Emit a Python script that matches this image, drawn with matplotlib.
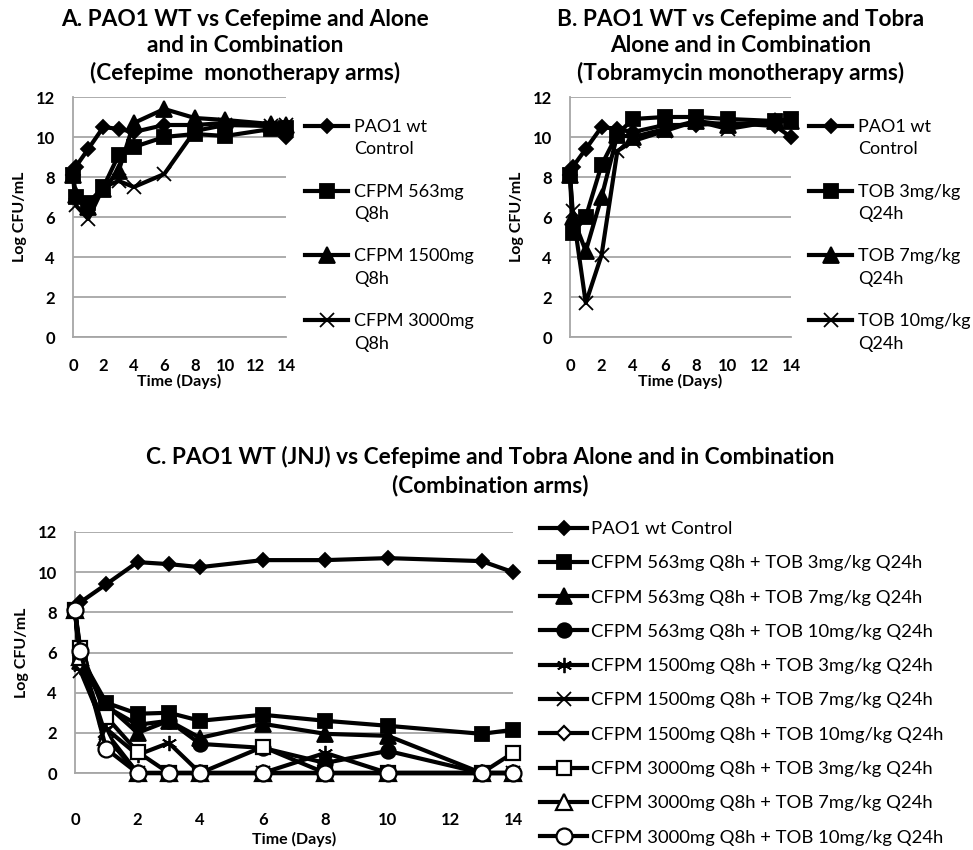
import matplotlib

matplotlib.use("Agg")
import matplotlib.pyplot as plt
from matplotlib.legend_handler import HandlerLine2D
from matplotlib.transforms import Affine2D

plt.rcParams["font.family"] = ["Lato", "DejaVu Sans"]

# ---------------------------------------------------------------------------
# data (Log CFU/mL)
days = [0, 0.17, 1, 2, 3, 4, 6, 8, 10, 13, 14]

control = [8.1, 8.5, 9.4, 10.5, 10.4, 10.25, 10.6, 10.6, 10.7, 10.55, 10.0]

# panel A: cefepime monotherapy
cfpm563 = [8.1, 7.0, 6.7, 7.5, 9.1, 9.5, 10.0, 10.15, 10.05, 10.4, 10.45]
cfpm1500 = [8.1, 7.1, 6.5, 7.4, 8.3, 10.7, 11.4, 10.95, 10.85, 10.65, 10.6]
cfpm3000 = [8.1, 6.6, 5.9, 7.5, 7.8, 7.5, 8.15, 10.3, 10.6, 10.55, 10.6]

# panel B: tobramycin monotherapy
tob3 = [8.1, 5.2, 6.0, 8.6, 10.15, 10.9, 11.0, 11.0, 10.9, 10.8, 10.9]
tob7 = [8.1, 6.0, 4.3, 7.0, 10.1, 10.0, 10.4, 10.8, 10.6, 10.8, 10.8]
tob10 = [8.1, 6.3, 1.7, 4.1, 9.3, 9.8, 10.3, 10.8, 10.4, 10.8, 10.8]

# panel C: combination arms
c563_tob3 = [8.1, 5.8, 3.5, 2.95, 3.0, 2.6, 2.9, 2.6, 2.35, 1.95, 2.15]
c563_tob7 = [8.1, 5.6, 3.4, 2.0, 2.6, 1.75, 2.45, 1.95, 1.85, 0.0, 0.0]
c563_tob10 = [8.1, 5.5, 3.3, 2.4, 2.6, 1.45, 1.25, 0.5, 1.1, 0.0, 0.0]
c1500_tob3 = [8.1, 5.3, 2.2, 0.9, 1.5, 0.0, 0.0, 1.0, 0.0, 0.0, 0.0]
c1500_tob7 = [8.1, 5.1, 2.0, 0.0, 0.0, 0.0, 0.0, 0.0, 0.0, 0.0, 0.0]
c1500_tob10 = [8.1, 5.5, 1.8, 0.0, 0.0, 0.0, 0.0, 0.0, 0.0, 0.0, 0.0]
c3000_tob3 = [8.1, 6.2, 2.8, 1.05, 0.0, 0.0, 1.3, 0.0, 0.0, 0.0, 1.0]
c3000_tob7 = [8.1, 5.8, 1.8, 0.0, 0.0, 0.0, 0.0, 0.0, 0.0, 0.0, 0.0]
c3000_tob10 = [8.1, 6.05, 1.2, 0.0, 0.0, 0.0, 0.0, 0.0, 0.0, 0.0, 0.0]

labels_a = ["PAO1 wt\nControl", "CFPM 563mg\nQ8h", "CFPM 1500mg\nQ8h", "CFPM 3000mg\nQ8h"]
labels_b = ["PAO1 wt\nControl", "TOB 3mg/kg\nQ24h", "TOB 7mg/kg\nQ24h", "TOB 10mg/kg\nQ24h"]
labels_c = [
    "PAO1 wt Control",
    "CFPM 563mg Q8h + TOB 3mg/kg Q24h",
    "CFPM 563mg Q8h + TOB 7mg/kg Q24h",
    "CFPM 563mg Q8h + TOB 10mg/kg Q24h",
    "CFPM 1500mg Q8h + TOB 3mg/kg Q24h",
    "CFPM 1500mg Q8h + TOB 7mg/kg Q24h",
    "CFPM 1500mg Q8h + TOB 10mg/kg Q24h",
    "CFPM 3000mg Q8h + TOB 3mg/kg Q24h",
    "CFPM 3000mg Q8h + TOB 7mg/kg Q24h",
    "CFPM 3000mg Q8h + TOB 10mg/kg Q24h",
]

W, H = 973, 850
GRID = "#a6a6a6"
LW = 3.0

ASTERISK = (6, 2, 0)
# marker, size, filled
STYLE = {
    "diamond": ("D", 7, True),
    "square": ("s", 10.5, True),
    "triangle": ("^", 11, True),
    "circle": ("o", 10.5, True),
    "asterisk": (ASTERISK, 11, True),
    "x": ("x", 10.5, True),
    "odiamond": ("D", 7.5, False),
    "osquare": ("s", 10.5, False),
    "otriangle": ("^", 11, False),
    "ocircle": ("o", 11.5, False),
}


class FirstLineHandler(HandlerLine2D):
    """Shift a legend handle up so it sits on the first line of a 2-line label."""

    def __init__(self, dy=0.0, **kw):
        super().__init__(**kw)
        self._dy = dy

    def create_artists(self, legend, orig_handle, xdescent, ydescent, width, height, fontsize, trans):
        artists = super().create_artists(legend, orig_handle, xdescent, ydescent, width, height, fontsize, trans)
        t = Affine2D().translate(0, self._dy) + trans
        for a in artists:
            a.set_transform(t)
        return artists


def axes_px(left, top, right, bottom):
    return fig.add_axes([left / W, 1 - bottom / H, (right - left) / W, (bottom - top) / H])


def style_axes(ax, xpad):
    ax.set_xlim(0, 14)
    ax.set_ylim(0, 12)
    ax.set_xticks(range(0, 15, 2))
    ax.set_yticks(range(0, 13, 2))
    ax.grid(axis="y", color=GRID, lw=1.3)
    ax.grid(axis="x", visible=False)
    ax.set_axisbelow(True)
    for s in ("top", "right"):
        ax.spines[s].set_visible(False)
    for s in ("left", "bottom"):
        ax.spines[s].set_color(GRID)
        ax.spines[s].set_linewidth(1.3)
    ax.tick_params(axis="both", length=0, labelsize=12)
    ax.tick_params(axis="x", pad=xpad)
    ax.tick_params(axis="y", pad=13)
    for lab in ax.get_xticklabels() + ax.get_yticklabels():
        lab.set_fontweight("bold")


def series(ax, y, kind, z):
    m, ms, filled = STYLE[kind]
    (ln,) = ax.plot(
        days, y, color="black", lw=LW, marker=m, ms=ms,
        mfc="black" if filled else "white", mec="black", mew=1.6 if not filled else 1.3,
        solid_joinstyle="round", clip_on=False, zorder=z,
    )
    return ln


fig = plt.figure(figsize=(W / 100, H / 100), dpi=100)

# ---------------------------------------------------------------------------
# panel A
axA = axes_px(73, 97, 286, 337)
style_axes(axA, 15)
ha = [
    series(axA, control, "diamond", 3),
    series(axA, cfpm563, "square", 4),
    series(axA, cfpm1500, "triangle", 5),
    series(axA, cfpm3000, "x", 6),
]
axA.set_xlabel("Time (Days)", fontsize=11.5, fontweight="bold", labelpad=0)
axA.set_ylabel("Log CFU/mL", fontsize=11.5, fontweight="bold", labelpad=6)

# panel B
axB = axes_px(570, 97, 791, 337)
style_axes(axB, 15)
hb = [
    series(axB, control, "diamond", 3),
    series(axB, tob3, "square", 4),
    series(axB, tob7, "triangle", 5),
    series(axB, tob10, "x", 6),
]
axB.set_xlabel("Time (Days)", fontsize=11.5, fontweight="bold", labelpad=0)
axB.set_ylabel("Log CFU/mL", fontsize=11.5, fontweight="bold", labelpad=6)

# panel C
axC = axes_px(75, 532, 513, 773)
style_axes(axC, 28)
combo = [
    (c563_tob3, "square"),
    (c563_tob7, "triangle"),
    (c563_tob10, "circle"),
    (c1500_tob3, "asterisk"),
    (c1500_tob7, "x"),
    (c1500_tob10, "odiamond"),
    (c3000_tob3, "osquare"),
    (c3000_tob7, "otriangle"),
    (c3000_tob10, "ocircle"),
]
hc = [series(axC, control, "diamond", 3)]
for i, (y, kind) in enumerate(combo):
    hc.append(series(axC, y, kind, 4 + i))
axC.set_xlabel("Time (Days)", fontsize=11.5, fontweight="bold", labelpad=3)
axC.set_ylabel("Log CFU/mL", fontsize=11.5, fontweight="bold", labelpad=6)

# ---------------------------------------------------------------------------
# legends
for ax, hs, labs, x0 in ((axA, ha, labels_a, 305), (axB, hb, labels_b, 809)):
    leg = ax.legend(
        hs, labs, loc="upper left", bbox_to_anchor=(x0 / W, 1 - 119 / H),
        bbox_transform=fig.transFigure, frameon=False, fontsize=13,
        handlelength=2.4, handletextpad=0.3, labelspacing=1.45,
        borderpad=0, borderaxespad=0,
        handler_map={h: FirstLineHandler(dy=9) for h in hs},
    )
    for t in leg.get_texts():
        t.set_linespacing(1.5)

legC = axC.legend(
    hc, labels_c, loc="upper left", bbox_to_anchor=(540 / W, 1 - 521 / H),
    bbox_transform=fig.transFigure, frameon=False, fontsize=13.3,
    handlelength=2.55, handletextpad=0.22, labelspacing=0.99,
    borderpad=0, borderaxespad=0,
)

# ---------------------------------------------------------------------------
# titles
fig.text(245 / W, 1 - 9 / H,
         "A. PAO1 WT vs Cefepime and Alone\nand in Combination\n(Cefepime  monotherapy arms)",
         ha="center", va="top", fontsize=16.3, fontweight="bold", linespacing=1.3)
fig.text(741 / W, 1 - 9 / H,
         "B. PAO1 WT vs Cefepime and Tobra\nAlone and in Combination\n(Tobramycin monotherapy arms)",
         ha="center", va="top", fontsize=16.3, fontweight="bold", linespacing=1.3)
fig.text(490 / W, 1 - 446 / H,
         "C. PAO1 WT (JNJ) vs Cefepime and Tobra Alone and in Combination\n(Combination arms)",
         ha="center", va="top", fontsize=16.3, fontweight="bold", linespacing=1.35)

fig.savefig("out.png", dpi=100)
